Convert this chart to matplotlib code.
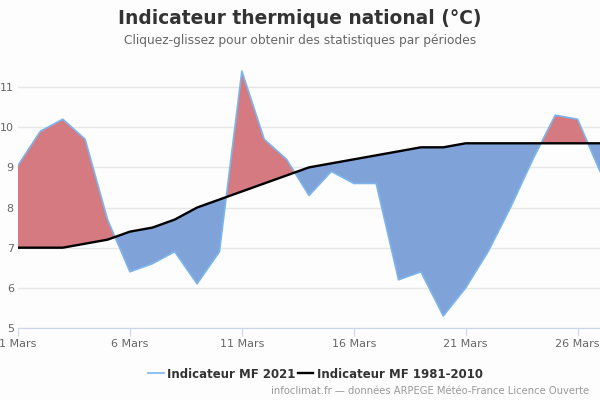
import matplotlib.pyplot as plt
import numpy as np

# jours de mars 2021
days = np.arange(1, 28)
temp_2021 = [9.05, 9.9, 10.2, 9.7, 7.7, 6.4, 6.6, 6.9, 6.1, 6.9,
             11.4, 9.7, 9.2, 8.3, 8.9, 8.6, 8.6, 6.2, 6.4, 5.3,
             6.0, 6.9, 8.0, 9.2, 10.3, 10.2, 8.9]
temp_norm = [7.0, 7.0, 7.0, 7.1, 7.2, 7.4, 7.5, 7.7, 8.0, 8.2,
             8.4, 8.6, 8.8, 9.0, 9.1, 9.2, 9.3, 9.4, 9.5, 9.5,
             9.6, 9.6, 9.6, 9.6, 9.6, 9.6, 9.6]
tick_days = [1, 6, 11, 16, 21, 26]
tick_labels = ["1 Mars", "6 Mars", "11 Mars", "16 Mars", "21 Mars", "26 Mars"]

t21 = np.array(temp_2021)
tn = np.array(temp_norm)

bg = "#fcfdfc"
fig = plt.figure(figsize=(6, 4), dpi=100, facecolor=bg)
ax = fig.add_axes([0.03, 0.18, 0.97, 0.6575])
ax.set_facecolor(bg)

ax.fill_between(days, t21, tn, where=t21 >= tn, interpolate=True,
                color="#d47a80", linewidth=0, zorder=2)
ax.fill_between(days, t21, tn, where=t21 <= tn, interpolate=True,
                color="#7fa3d9", linewidth=0, zorder=2)
l1, = ax.plot(days, t21, color="#7cb5ec", lw=1.2, zorder=3,
              label="Indicateur MF 2021")
l2, = ax.plot(days, tn, color="black", lw=1.7, zorder=4,
              label="Indicateur MF 1981-2010")

ax.set_xlim(1, 27)
ax.set_ylim(5, 11.55)
ax.set_yticks(range(5, 12))
ax.set_xticks(tick_days)
ax.set_xticklabels(tick_labels)
ax.grid(axis="y", color="#e6e6e6", lw=1, zorder=0)
ax.set_axisbelow(True)
for s in ["top", "right", "left"]:
    ax.spines[s].set_visible(False)
ax.spines["bottom"].set_color("#ccd6eb")
ax.tick_params(axis="y", length=0, pad=3, labelsize=8, labelcolor="#666666")
ax.tick_params(axis="x", length=6, color="#ccd6eb", pad=2,
               labelsize=8, labelcolor="#666666")

fig.text(0.5, 0.953, "Indicateur thermique national (°C)", ha="center",
         va="center", fontsize=13.4, fontweight="bold", color="#333333")
fig.text(0.5, 0.898, "Cliquez-glissez pour obtenir des statistiques par périodes",
         ha="center", va="center", fontsize=8.85, color="#666666")

fig.legend(handles=[l1, l2], loc="center", bbox_to_anchor=(0.526, 0.065),
           ncol=2, frameon=False, handlelength=1.3, handletextpad=0.3,
           columnspacing=0.2, prop={"weight": "bold", "size": 8.5})
for t in fig.legends[0].get_texts():
    t.set_color("#333333")

fig.text(0.982, 0.022, "infoclimat.fr — données ARPEGE Météo-France Licence Ouverte",
         ha="right", va="center", fontsize=7.2, color="#999999")

fig.savefig("out.png", dpi=100, facecolor=bg)
